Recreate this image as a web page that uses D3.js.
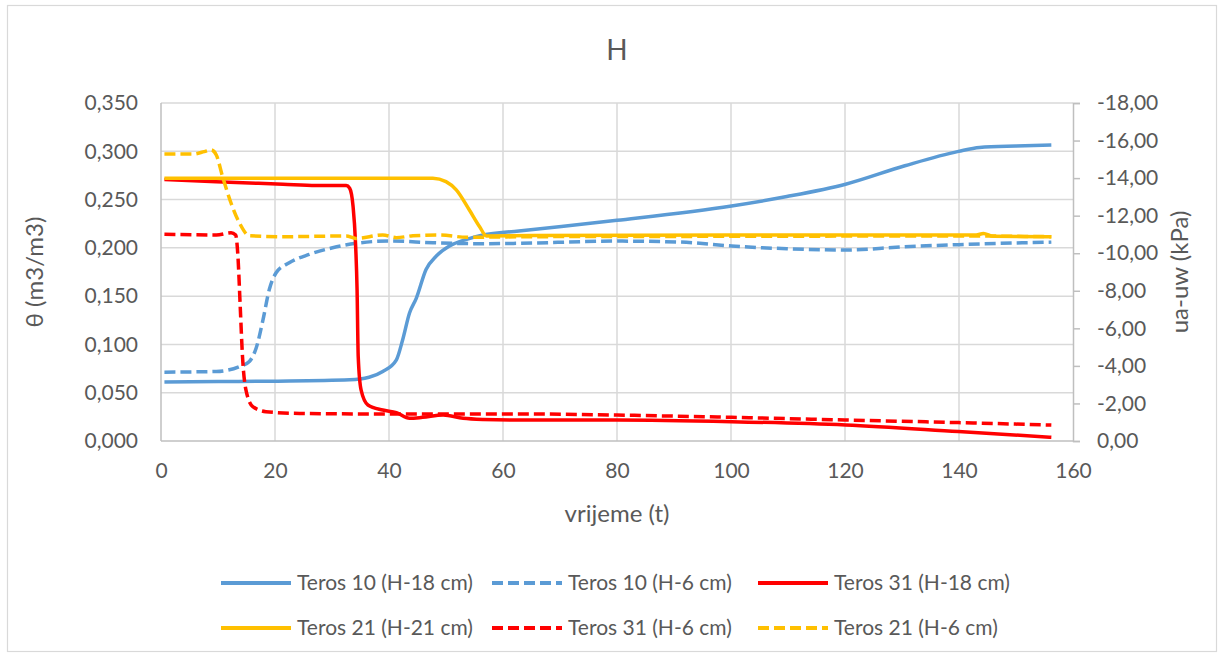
<!DOCTYPE html>
<html>
<head>
<meta charset="utf-8">
<script src="https://cdn.jsdelivr.net/npm/d3@7"></script>
<style>
  html, body { margin: 0; padding: 0; background: #fff; }
  svg { display: block; font-family: Lato, "Open Sans", sans-serif; }
</style>
</head>
<body>
<svg id="chart" width="1223" height="658"></svg>
<script>
// ---- DATA ----
const chartTitle = "H";
const xTicks = [0, 20, 40, 60, 80, 100, 120, 140, 160];
const yLeftTicks = [0, 0.05, 0.10, 0.15, 0.20, 0.25, 0.30, 0.35];
const yRightTicks = [0, -2, -4, -6, -8, -10, -12, -14, -16, -18];

// Teros 10 (H-18 cm) – θ (left axis)
const t10_18_t = [0.6, 10, 20, 33.1, 36.5, 38.9, 41.3, 42.4, 43.6, 44.8, 46.5, 48.3, 50.6, 53.6, 56.5, 62.8, 80, 100.1, 109.8, 120.1, 130.5, 139.9, 143.6, 150, 156.2];
const t10_18_v = [0.061, 0.0615, 0.062, 0.0634, 0.066, 0.072, 0.0841, 0.1049, 0.1326, 0.148, 0.1776, 0.1915, 0.2019, 0.2088, 0.2133, 0.2175, 0.2285, 0.2434, 0.2531, 0.2659, 0.285, 0.2999, 0.304, 0.3055, 0.3064];

// Teros 10 (H-6 cm) – θ (left axis)
const t10_6_t = [0.6, 9.7, 13.8, 15.5, 16.7, 17.9, 19.0, 20.2, 22.5, 26.0, 30.1, 34.2, 40.1, 47.7, 56.5, 62.8, 80, 91, 100.1, 109.8, 120.1, 130.5, 139.9, 156.2];
const t10_6_v = [0.0713, 0.072, 0.0772, 0.0824, 0.0963, 0.1257, 0.1569, 0.1742, 0.1846, 0.1932, 0.2001, 0.2047, 0.2071, 0.2053, 0.2043, 0.2047, 0.207, 0.206, 0.2019, 0.1991, 0.1977, 0.2012, 0.2033, 0.206];

// Teros 31 (H-18 cm) – ua-uw (right axis)
const t31_18_t = [0.6, 9.7, 21.4, 27.2, 32.5, 33.1, 33.7, 34.1, 34.4, 34.6, 35.1, 36.3, 38.9, 41.3, 43.6, 45.9, 49.5, 53.0, 56.5, 62.8, 80, 100.1, 120.1, 139.9, 156.2];
const t31_18_v = [-13.93, -13.81, -13.67, -13.6, -13.6, -13.46, -12.48, -10.7, -8.04, -4.49, -2.72, -1.92, -1.65, -1.51, -1.21, -1.26, -1.38, -1.21, -1.15, -1.12, -1.12, -1.03, -0.85, -0.5, -0.2];

// Teros 21 (H-21 cm) – ua-uw (right axis)
const t21_21_t = [0.6, 47.7, 50.0, 51.8, 54.1, 55.9, 57.1, 64.7, 100, 140, 143, 144.3, 146, 156.2];
const t21_21_v = [-13.99, -13.99, -13.81, -13.37, -12.3, -11.41, -10.92, -10.94, -10.97, -10.97, -10.97, -11.05, -10.9, -10.88];

// Teros 31 (H-6 cm) – ua-uw (right axis)
const t31_6_t = [0.6, 9.7, 12.3, 13.1, 13.5, 13.9, 14.3, 14.9, 16.1, 18.4, 24.3, 38.9, 62.8, 80, 100.1, 120.1, 139.9, 156.2];
const t31_6_v = [-11.01, -10.97, -11.09, -10.97, -9.82, -7.15, -4.49, -2.72, -1.83, -1.56, -1.47, -1.44, -1.44, -1.38, -1.26, -1.12, -0.98, -0.85];

// Teros 21 (H-6 cm) – ua-uw (right axis)
const t21_6_t = [0.6, 5.6, 7.6, 8.8, 9.7, 10.8, 12.3, 13.8, 15.5, 21.4, 32.5, 34.2, 38.9, 41.3, 44.2, 48.9, 53.6, 64.7, 100, 140, 156.2];
const t21_6_v = [-15.28, -15.28, -15.41, -15.5, -15.23, -14.08, -12.66, -11.59, -10.93, -10.88, -10.92, -10.79, -10.97, -10.83, -10.93, -10.97, -10.85, -10.88, -10.9, -10.92, -10.88];

const seriesNames = ["Teros 10 (H-18 cm)", "Teros 10 (H-6 cm)", "Teros 31 (H-18 cm)", "Teros 21 (H-21 cm)", "Teros 31 (H-6 cm)", "Teros 21 (H-6 cm)"];

// ---- BUILD ----
const series = [
  { name: seriesNames[0], t: t10_18_t, v: t10_18_v, axis: "L", color: "#5b9bd5", dash: null },
  { name: seriesNames[1], t: t10_6_t,  v: t10_6_v,  axis: "L", color: "#5b9bd5", dash: "11,5" },
  { name: seriesNames[2], t: t31_18_t, v: t31_18_v, axis: "R", color: "#ff0000", dash: null },
  { name: seriesNames[3], t: t21_21_t, v: t21_21_v, axis: "R", color: "#ffc000", dash: null },
  { name: seriesNames[4], t: t31_6_t,  v: t31_6_v,  axis: "R", color: "#ff0000", dash: "11,5" },
  { name: seriesNames[5], t: t21_6_t,  v: t21_6_v,  axis: "R", color: "#ffc000", dash: "11,5" }
];

const svg = d3.select("#chart");
const textColor = "#595959";
const gridColor = "#d9d9d9";

const x = d3.scaleLinear().domain([0, 160]).range([161, 1073]);
const yL = d3.scaleLinear().domain([0, 0.35]).range([441, 103]);
const yR = d3.scaleLinear().domain([0, -18]).range([441, 103]);

// outer frame
svg.append("rect").attr("x", 7.5).attr("y", 5.5).attr("width", 1209).attr("height", 646)
  .attr("fill", "#fff").attr("stroke", "#d9d9d9").attr("stroke-width", 1.2);

// gridlines
const grid = svg.append("g");
grid.selectAll("line.h").data(yLeftTicks.filter(d => d > 0)).join("line")
  .attr("x1", x(0)).attr("x2", x(160))
  .attr("y1", d => yL(d)).attr("y2", d => yL(d))
  .attr("stroke", gridColor).attr("stroke-width", 1.5);
grid.selectAll("line.v").data(xTicks.filter(d => d > 0 && d < 160)).join("line")
  .attr("y1", yL(0)).attr("y2", yL(0.35))
  .attr("x1", d => x(d)).attr("x2", d => x(d))
  .attr("stroke", gridColor).attr("stroke-width", 1.5);

// axes
const fmtL = d => d3.format(".3f")(d).replace(".", ",");
const fmtR = d => d3.format(".2f")(d).replace(".", ",").replace("\u2212", "-");

const axL = svg.append("g").attr("transform", `translate(${x(0)},0)`)
  .call(d3.axisLeft(yL).tickValues(yLeftTicks).tickFormat(fmtL).tickSize(0).tickPadding(23));
const axR = svg.append("g").attr("transform", `translate(${x(160)},0)`)
  .call(d3.axisRight(yR).tickValues(yRightTicks).tickFormat(fmtR).tickSize(7).tickPadding(17));
const axB = svg.append("g").attr("transform", `translate(0,${yL(0)})`)
  .call(d3.axisBottom(x).tickValues(xTicks).tickFormat(d3.format("d")).tickSize(0).tickPadding(22));

[axL, axR, axB].forEach(a => {
  a.select(".domain").attr("stroke", "#bfbfbf").attr("stroke-width", 1.5);
  a.selectAll(".tick line").attr("stroke", "#bfbfbf").attr("stroke-width", 1.5);
  a.selectAll(".tick text").attr("fill", textColor).attr("font-size", 21)
    .attr("font-family", "Lato, sans-serif");
});
axB.select(".domain").attr("d", `M${x(0)},0H${x(160)}`);
axL.select(".domain").attr("d", `M0,${yL(0)}V${yL(0.35)}`);

// lines
const lineL = d3.line().x(d => x(d[0])).y(d => yL(d[1])).curve(d3.curveMonotoneX);
const lineR = d3.line().x(d => x(d[0])).y(d => yR(d[1])).curve(d3.curveMonotoneX);

const plot = svg.append("g");
series.forEach(s => {
  const pts = s.t.map((t, i) => [t, s.v[i]]);
  plot.append("path")
    .attr("d", (s.axis === "L" ? lineL : lineR)(pts))
    .attr("fill", "none")
    .attr("stroke", s.color)
    .attr("stroke-width", 3.5)
    .attr("stroke-linejoin", "round")
    .attr("stroke-dasharray", s.dash);
});

// title
svg.append("text").attr("x", 617).attr("y", 60).attr("text-anchor", "middle")
  .attr("font-size", 28).attr("fill", textColor).text(chartTitle);

// axis titles
svg.append("text").attr("transform", "translate(43,272) rotate(-90)")
  .attr("text-anchor", "middle").attr("font-size", 24).attr("fill", textColor).text("θ (m3/m3)");
svg.append("text").attr("transform", "translate(1188,272) rotate(-90)")
  .attr("text-anchor", "middle").attr("font-size", 24).attr("fill", textColor).text("ua-uw (kPa)");
svg.append("text").attr("x", 617).attr("y", 522).attr("text-anchor", "middle")
  .attr("font-size", 24).attr("fill", textColor).text("vrijeme (t)");

// legend
const legendCols = [221, 492, 758];
const legendRows = [583, 628];
const legend = svg.append("g");
series.forEach((s, i) => {
  const lx = legendCols[i % 3], ly = legendRows[Math.floor(i / 3)];
  legend.append("line").attr("x1", lx).attr("x2", lx + 70).attr("y1", ly).attr("y2", ly)
    .attr("stroke", s.color).attr("stroke-width", 4).attr("stroke-dasharray", s.dash ? "11,5" : null);
  legend.append("text").attr("x", lx + 76).attr("y", ly).attr("dy", "0.35em")
    .attr("font-size", 21).attr("fill", textColor).text(s.name);
});
</script>
</body>
</html>
